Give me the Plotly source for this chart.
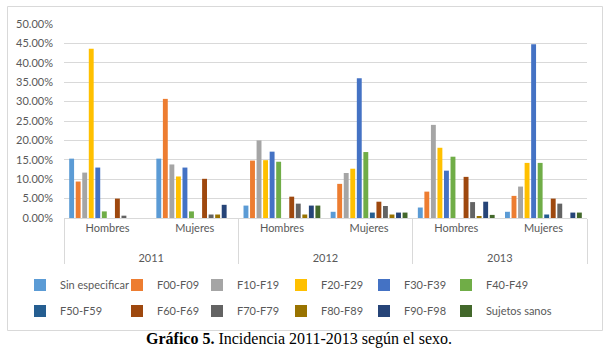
import plotly.graph_objects as go

# ---- data (percent) ----
years = ["2011", "2011", "2012", "2012", "2013", "2013"]
sexes = ["Hombres", "Mujeres", "Hombres", "Mujeres", "Hombres", "Mujeres"]

series_names = ["Sin especificar", "F00-F09", "F10-F19", "F20-F29", "F30-F39", "F40-F49",
                "F50-F59", "F60-F69", "F70-F79", "F80-F89", "F90-F98", "Sujetos sanos"]

sin_especificar = [15.3, 15.3, 3.2, 1.6, 2.7, 1.6]
f00_f09 = [9.4, 30.7, 14.8, 8.8, 6.8, 5.7]
f10_f19 = [11.7, 13.8, 20.0, 11.6, 24.0, 8.1]
f20_f29 = [43.6, 10.7, 14.9, 12.7, 18.1, 14.2]
f30_f39 = [13.0, 13.0, 17.1, 36.0, 12.2, 44.8]
f40_f49 = [1.7, 1.7, 14.5, 17.0, 15.8, 14.2]
f50_f59 = [0, 0, 0, 1.4, 0, 0.9]
f60_f69 = [5.0, 10.1, 5.5, 4.2, 10.6, 5.0]
f70_f79 = [0.6, 0.9, 3.7, 3.1, 4.1, 3.7]
f80_f89 = [0, 0.9, 0.9, 0.9, 0.5, 0]
f90_f98 = [0, 3.4, 3.2, 1.4, 4.2, 1.4]
sujetos_sanos = [0, 0, 3.2, 1.4, 0.8, 1.4]

series_values = [sin_especificar, f00_f09, f10_f19, f20_f29, f30_f39, f40_f49,
                 f50_f59, f60_f69, f70_f79, f80_f89, f90_f98, sujetos_sanos]

colors = ["#5B9BD5", "#ED7D31", "#A5A5A5", "#FFC000", "#4472C4", "#70AD47",
          "#255E91", "#9E480E", "#636363", "#997300", "#264478", "#43682B"]

y_ticks = [0, 5, 10, 15, 20, 25, 30, 35, 40, 45, 50]
y_ticktext = [f"{v:.2f}%" for v in y_ticks]

# outer (year) labels get a blank first line so they sit lower, as in the reference
year_labels = ["\u00a0<br>" + y for y in years]

# ---- layout geometry (pixels) ----
W, H = 610, 353
L, R, T, B = 64, 23, 24, 135
PW = W - L - R
PH = H - T - B


def px(x):
    return (x - L) / PW


def py(y):
    return (H - B - y) / PH


FONT = "Lato"
TXT = "#595959"
GRID = "#D9D9D9"

# left edge (px) of each legend column's box, and row centres (px)
legend_x = [20, 117, 197, 281, 364, 446]
legend_rows = [285, 311]

fig = go.Figure()
legend_layouts = {}
for i, (name, vals, col) in enumerate(zip(series_names, series_values, colors)):
    lname = "legend" if i == 0 else f"legend{i + 1}"
    fig.add_trace(go.Bar(
        x=[year_labels, sexes], y=vals, name=name,
        marker=dict(color=col, line=dict(width=0)),
        legend=lname,
        hovertemplate="%{y:.2f}%<extra>" + name + "</extra>",
    ))
    legend_layouts[lname] = dict(
        x=px(legend_x[i % 6]), y=py(legend_rows[i // 6]),
        xanchor="left", yanchor="middle", orientation="v",
        font=dict(family=FONT, size=11, color=TXT),
        bgcolor="rgba(0,0,0,0)", borderwidth=0, itemwidth=30,
    )

fig.update_layout(
    width=W, height=H,
    margin=dict(l=L, r=R, t=T, b=B, pad=0),
    paper_bgcolor="white", plot_bgcolor="white",
    barmode="group", bargap=0.1, bargroupgap=0.25,
    font=dict(family=FONT, size=11, color=TXT),
    xaxis=dict(
        type="multicategory", showline=True, linecolor=GRID, linewidth=1,
        showdividers=True, dividercolor=GRID, dividerwidth=1,
        ticks="",
        tickfont=dict(family=FONT, size=11, color=TXT),
        showgrid=False, zeroline=False,
    ),
    yaxis=dict(
        range=[0, 50], tickmode="array", tickvals=y_ticks, ticktext=y_ticktext,
        showgrid=True, gridcolor=GRID, gridwidth=1, zeroline=False,
        showline=False, ticks="", ticklabelstandoff=10,
        tickfont=dict(family=FONT, size=11, color=TXT),
    ),
    showlegend=True,
    **legend_layouts,
)

# chart border
fig.add_shape(type="rect", xref="paper", yref="paper",
              x0=px(7.5), x1=px(602.5), y0=py(330.5), y1=py(6.5),
              line=dict(color=GRID, width=1), fillcolor="rgba(0,0,0,0)", layer="below")

# caption
fig.add_annotation(
    xref="paper", yref="paper", x=px(299), y=py(339), xanchor="center", yanchor="middle",
    text="<b>Gráfico 5.</b> Incidencia 2011-2013 según el sexo.", showarrow=False,
    font=dict(family="Liberation Serif", size=16, color="black"),
)

fig.write_html("out.html", config={"displayModeBar": False},
               post_script="document.body.style.margin='0';")
